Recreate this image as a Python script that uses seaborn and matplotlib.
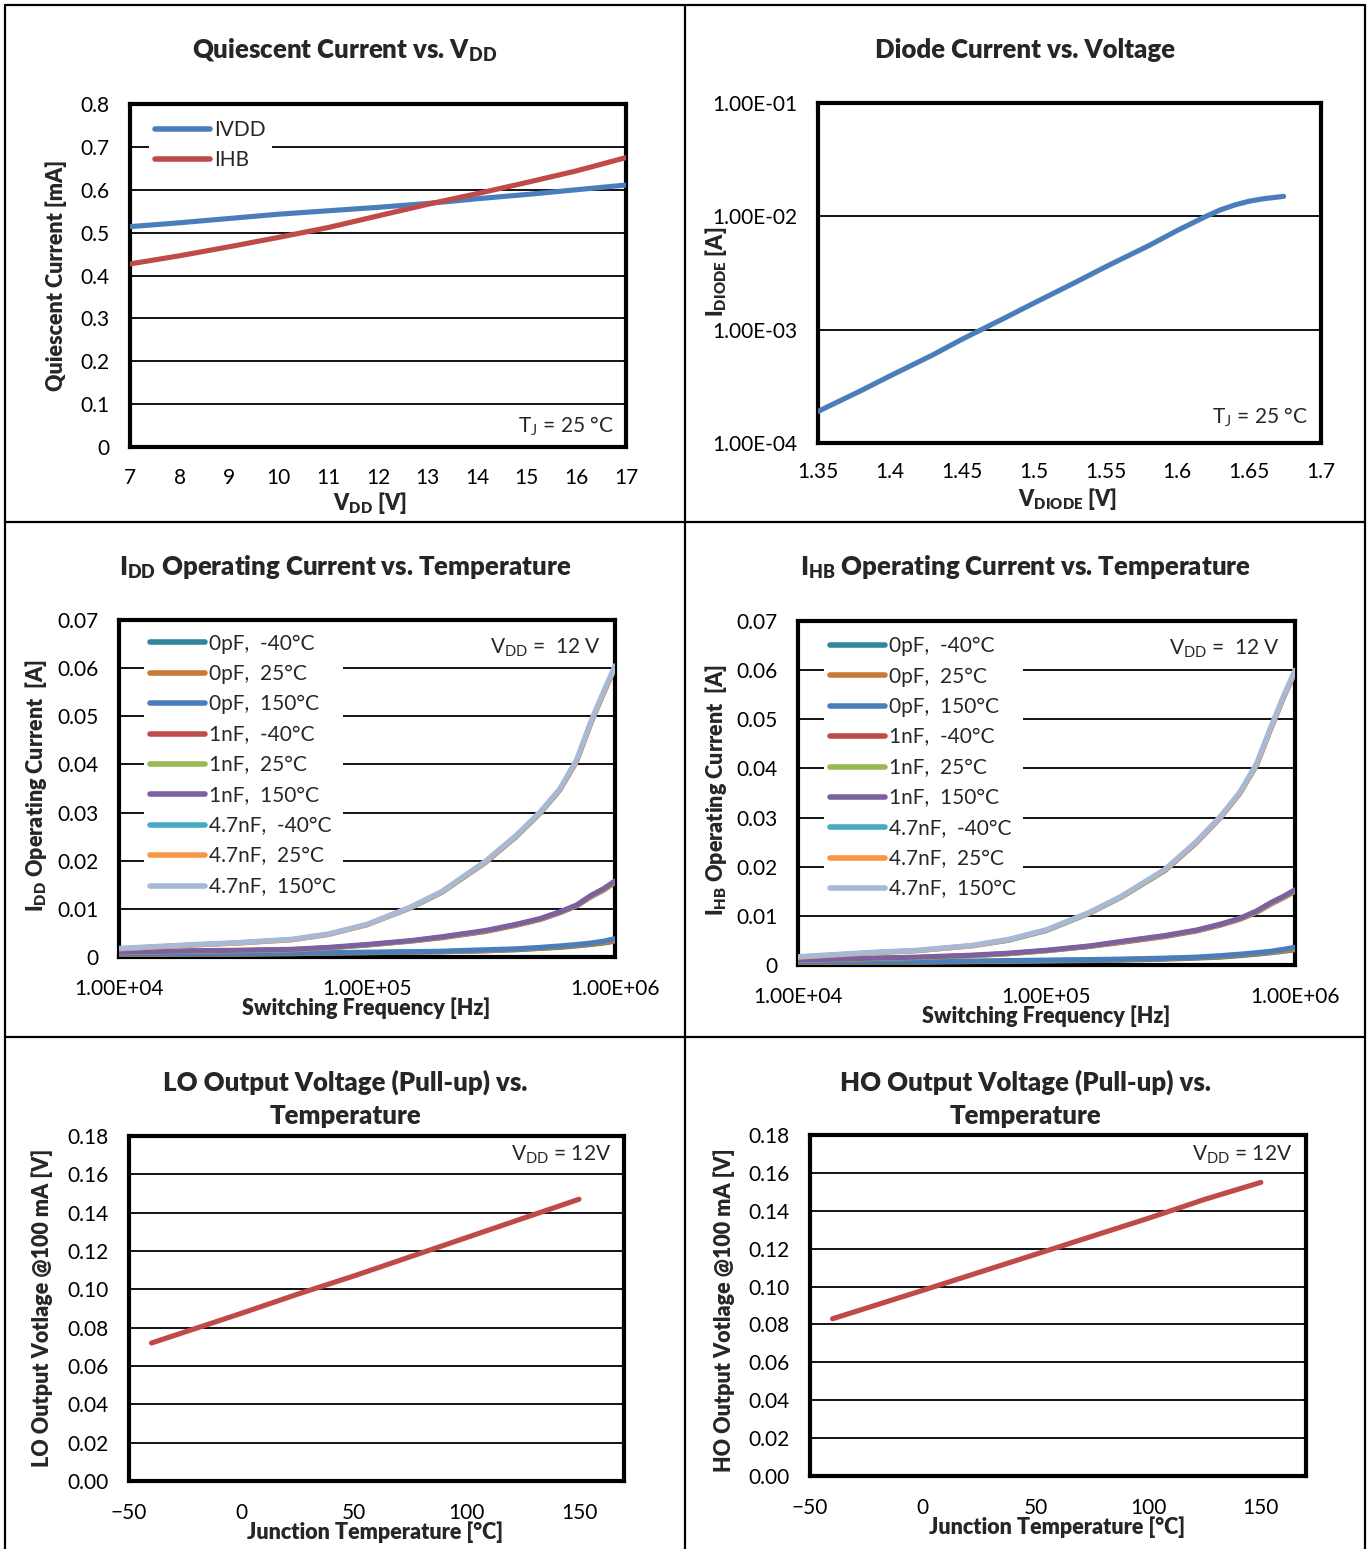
import matplotlib
matplotlib.use("Agg")
import matplotlib.pyplot as plt
import seaborn as sns
import numpy as np
from matplotlib.lines import Line2D
from matplotlib.ticker import FixedLocator, FixedFormatter, NullLocator

sns.set_style("white")
plt.rcParams['font.family'] = ['Lato', 'DejaVu Sans']
plt.rcParams['mathtext.fontset'] = 'custom'
plt.rcParams['mathtext.rm'] = 'Lato'
plt.rcParams['mathtext.it'] = 'Lato:italic'
plt.rcParams['mathtext.bf'] = 'Lato:heavy'

# ---------------- data ----------------
# Chart 1: Quiescent current vs VDD
vdd = [7, 8, 9, 10, 11, 12, 13, 14, 15, 16, 17]
ivdd = [0.514, 0.523, 0.533, 0.543, 0.551, 0.559, 0.568, 0.579, 0.589, 0.600, 0.611]
ihb = [0.427, 0.446, 0.467, 0.489, 0.512, 0.539, 0.566, 0.591, 0.617, 0.644, 0.675]
q_yticks = [0, 0.1, 0.2, 0.3, 0.4, 0.5, 0.6, 0.7, 0.8]
q_ylabels = ["0", "0.1", "0.2", "0.3", "0.4", "0.5", "0.6", "0.7", "0.8"]
q_xticks = [7, 8, 9, 10, 11, 12, 13, 14, 15, 16, 17]

# Chart 2: Diode current vs voltage
v_diode = [1.35, 1.38, 1.40, 1.43, 1.45, 1.48, 1.50, 1.53, 1.55, 1.58, 1.60, 1.62, 1.63, 1.64, 1.65, 1.66, 1.674]
i_diode = [1.9e-4, 2.9e-4, 3.9e-4, 6.0e-4, 8.2e-4, 1.27e-3, 1.71e-3, 2.65e-3, 3.58e-3, 5.5e-3, 7.5e-3, 1.0e-2,
           1.14e-2, 1.26e-2, 1.36e-2, 1.43e-2, 1.50e-2]
d_xticks = [1.35, 1.4, 1.45, 1.5, 1.55, 1.6, 1.65, 1.7]
d_xlabels = ["1.35", "1.4", "1.45", "1.5", "1.55", "1.6", "1.65", "1.7"]
d_yticks = [1e-4, 1e-3, 1e-2, 1e-1]
d_ylabels = ["1.00E-04", "1.00E-03", "1.00E-02", "1.00E-01"]

# Charts 3/4: operating current vs switching frequency
freq = [1e4, 2e4, 3e4, 5e4, 7e4, 1e5, 1.5e5, 2e5, 3e5, 4e5, 5e5, 6e5, 7e5, 8e5, 9e5, 1e6]
series_names = ["0pF,  -40°C", "0pF,  25°C", "0pF,  150°C",
                "1nF,  -40°C", "1nF,  25°C", "1nF,  150°C",
                "4.7nF,  -40°C", "4.7nF,  25°C", "4.7nF,  150°C"]
series_colors = ["#31859C", "#C97A38", "#4A7EBB", "#BE4B48", "#98B954", "#7D60A0",
                 "#46AAC5", "#F79646", "#A7B9D6"]

idd_0pf_m40 = [0.0005, 0.0006, 0.0006, 0.0007, 0.0008, 0.0009, 0.0010, 0.0011, 0.0013, 0.0015, 0.0018, 0.0020, 0.0023, 0.0026, 0.0029, 0.0033]
idd_0pf_25 = [0.0005, 0.0006, 0.0006, 0.0007, 0.0008, 0.0009, 0.0010, 0.0011, 0.0013, 0.0016, 0.0018, 0.0021, 0.0024, 0.0027, 0.0030, 0.0034]
idd_0pf_150 = [0.0006, 0.0007, 0.0007, 0.0008, 0.0009, 0.0010, 0.0011, 0.0012, 0.0015, 0.0017, 0.0020, 0.0023, 0.0026, 0.0029, 0.0033, 0.0038]
idd_1nf_m40 = [0.0009, 0.0012, 0.0013, 0.0015, 0.0019, 0.0025, 0.0033, 0.0040, 0.0053, 0.0066, 0.0078, 0.0092, 0.0106, 0.0125, 0.0139, 0.0155]
idd_1nf_25 = [0.0009, 0.0012, 0.0013, 0.0015, 0.0019, 0.0025, 0.0033, 0.0041, 0.0054, 0.0067, 0.0079, 0.0093, 0.0107, 0.0126, 0.0140, 0.0156]
idd_1nf_150 = [0.0010, 0.0013, 0.0014, 0.0016, 0.0020, 0.0026, 0.0034, 0.0042, 0.0055, 0.0068, 0.0080, 0.0094, 0.0108, 0.0128, 0.0142, 0.0158]
idd_47nf_m40 = [0.0017, 0.0025, 0.0029, 0.0036, 0.0047, 0.0067, 0.0102, 0.0134, 0.0196, 0.0250, 0.0299, 0.0347, 0.0406, 0.0486, 0.0548, 0.0601]
idd_47nf_25 = [0.0017, 0.0025, 0.0029, 0.0036, 0.0047, 0.0067, 0.0103, 0.0135, 0.0197, 0.0251, 0.0300, 0.0348, 0.0407, 0.0487, 0.0549, 0.0602]
idd_47nf_150 = [0.0018, 0.0026, 0.0030, 0.0037, 0.0048, 0.0068, 0.0104, 0.0136, 0.0199, 0.0253, 0.0302, 0.0350, 0.0410, 0.0490, 0.0552, 0.0605]

ihb_0pf_m40 = [0.0005, 0.0006, 0.0006, 0.0007, 0.0007, 0.0008, 0.0009, 0.0010, 0.0012, 0.0014, 0.0016, 0.0019, 0.0022, 0.0025, 0.0028, 0.0031]
ihb_0pf_25 = [0.0005, 0.0006, 0.0006, 0.0007, 0.0008, 0.0009, 0.0010, 0.0011, 0.0013, 0.0015, 0.0017, 0.0020, 0.0023, 0.0026, 0.0029, 0.0032]
ihb_0pf_150 = [0.0006, 0.0007, 0.0007, 0.0008, 0.0009, 0.0010, 0.0011, 0.0012, 0.0014, 0.0016, 0.0019, 0.0022, 0.0025, 0.0028, 0.0032, 0.0036]
ihb_1nf_m40 = [0.0009, 0.0013, 0.0015, 0.0019, 0.0023, 0.0029, 0.0038, 0.0046, 0.0058, 0.0069, 0.0081, 0.0093, 0.0107, 0.0124, 0.0137, 0.0150]
ihb_1nf_25 = [0.0009, 0.0013, 0.0015, 0.0019, 0.0023, 0.0029, 0.0038, 0.0047, 0.0059, 0.0070, 0.0082, 0.0094, 0.0108, 0.0125, 0.0138, 0.0151]
ihb_1nf_150 = [0.0010, 0.0014, 0.0016, 0.0020, 0.0024, 0.0030, 0.0039, 0.0048, 0.0060, 0.0071, 0.0083, 0.0095, 0.0110, 0.0127, 0.0140, 0.0153]
ihb_47nf_m40 = [0.0016, 0.0025, 0.0029, 0.0039, 0.0050, 0.0070, 0.0106, 0.0138, 0.0192, 0.0248, 0.0299, 0.0349, 0.0406, 0.0481, 0.0544, 0.0596]
ihb_47nf_25 = [0.0016, 0.0025, 0.0029, 0.0039, 0.0051, 0.0071, 0.0107, 0.0139, 0.0193, 0.0249, 0.0300, 0.0350, 0.0407, 0.0482, 0.0545, 0.0597]
ihb_47nf_150 = [0.0017, 0.0026, 0.0030, 0.0040, 0.0052, 0.0072, 0.0108, 0.0140, 0.0195, 0.0251, 0.0302, 0.0352, 0.0410, 0.0485, 0.0548, 0.0600]

op_yticks = [0, 0.01, 0.02, 0.03, 0.04, 0.05, 0.06, 0.07]
op_ylabels = ["0", "0.01", "0.02", "0.03", "0.04", "0.05", "0.06", "0.07"]
op_xticks = [1e4, 1e5, 1e6]
op_xlabels = ["1.00E+04", "1.00E+05", "1.00E+06"]

# Charts 5/6: output voltage vs temperature
temp = [-40, 0, 25, 50, 100, 125, 150]
lo_v = [0.072, 0.0875, 0.0975, 0.107, 0.127, 0.137, 0.147]
ho_v = [0.083, 0.098, 0.1075, 0.117, 0.136, 0.146, 0.155]
t_xticks = [-50, 0, 50, 100, 150]
v_yticks = [0, 0.02, 0.04, 0.06, 0.08, 0.10, 0.12, 0.14, 0.16, 0.18]
v_ylabels = ["0.00", "0.02", "0.04", "0.06", "0.08", "0.10", "0.12", "0.14", "0.16", "0.18"]

# ---------------- layout ----------------
W, H = 1368, 1549
fig = plt.figure(figsize=(W / 100, H / 100), dpi=100)

def box(l, t, r, b):
    return [l / W, 1 - b / H, (r - l) / W, (b - t) / H]

TICK_FS = 15
LABEL_FS = 15.5
TITLE_FS = 18.5
BOLD = "heavy"
LW = 3.7
GRID_LW = 1.3
FRAME_LW = 3.0

def style_axes(ax, xpad=16):
    for s in ax.spines.values():
        s.set_visible(True)
        s.set_color("black")
        s.set_linewidth(FRAME_LW)
    ax.tick_params(axis="both", which="both", length=0, labelsize=TICK_FS, colors="black")
    ax.tick_params(axis="y", pad=15)
    ax.tick_params(axis="x", pad=xpad)
    ax.grid(False)
    ax.set_facecolor("white")

def hgrid(ax, values):
    for v in values:
        ax.axhline(v, color="black", lw=GRID_LW, zorder=1)

def labels(ax, xl, xpos, yl, ypos):
    ax.set_xlabel(xl, fontsize=LABEL_FS, fontweight=BOLD, va="center")
    ax.set_ylabel(yl, fontsize=LABEL_FS, fontweight=BOLD, va="center")
    ax.xaxis.set_label_coords(*xpos)
    ax.yaxis.set_label_coords(*ypos)

def title(x, y, s):
    fig.text(x / W, 1 - y / H, s, ha="center", va="center", fontsize=TITLE_FS, fontweight=BOLD,
             linespacing=1.45)

def make_legend(ax, anchor, spacing):
    lg = ax.legend(loc="upper left", bbox_to_anchor=anchor, frameon=True, fontsize=TICK_FS,
                   handlelength=2.65, handletextpad=0.2, labelspacing=spacing, borderpad=0.3,
                   borderaxespad=0.0)
    lg.get_frame().set_facecolor("white")
    lg.get_frame().set_edgecolor("none")
    lg.get_frame().set_alpha(1)
    lg.get_frame().set_boxstyle("square", pad=0)
    for h in lg.legend_handles:
        h.set_linewidth(4.0)
    lg.set_zorder(5)
    return lg

# ---- Chart 1
ax1 = fig.add_axes(box(130, 104, 626, 447))
style_axes(ax1, xpad=15)
hgrid(ax1, q_yticks[1:-1])
sns.lineplot(x=vdd, y=ivdd, ax=ax1, color="#4A7EBB", lw=LW, label="IVDD", zorder=3, solid_capstyle="round")
sns.lineplot(x=vdd, y=ihb, ax=ax1, color="#BE4B48", lw=LW, label="IHB", zorder=3, solid_capstyle="round")
ax1.set_xlim(7, 17)
ax1.set_ylim(0, 0.8)
ax1.xaxis.set_major_locator(FixedLocator(q_xticks))
ax1.yaxis.set_major_locator(FixedLocator(q_yticks))
ax1.yaxis.set_major_formatter(FixedFormatter(q_ylabels))
make_legend(ax1, (0.038, 0.972), 0.5)
labels(ax1, "V$_\\mathbf{DD}$ [V]", (0.484, -0.162), "Quiescent Current [mA]", (-0.149, 0.5))
title(345, 50, "Quiescent Current vs. V$_\\mathbf{DD}$")

# ---- Chart 2
ax2 = fig.add_axes(box(818, 103, 1321, 443))
style_axes(ax2, xpad=14)
ax2.set_yscale("log")
hgrid(ax2, [1e-3, 1e-2])
sns.lineplot(x=v_diode, y=i_diode, ax=ax2, color="#4A7EBB", lw=LW, zorder=3, solid_capstyle="round")
ax2.set_xlim(1.35, 1.7)
ax2.set_ylim(1e-4, 1e-1)
ax2.xaxis.set_major_locator(FixedLocator(d_xticks))
ax2.xaxis.set_major_formatter(FixedFormatter(d_xlabels))
ax2.yaxis.set_major_locator(FixedLocator(d_yticks))
ax2.yaxis.set_major_formatter(FixedFormatter(d_ylabels))
ax2.yaxis.set_minor_locator(NullLocator())
labels(ax2, "V$_\\mathbf{DIODE}$ [V]", (0.497, -0.165), "I$_\\mathbf{DIODE}$ [A]", (-0.203, 0.503))
title(1025, 50, "Diode Current vs. Voltage")

# ---- Charts 3/4
def op_chart(rect, data, ylab, xlab_pos, ylab_pos, ttl, tpos, anno_pos, leg_anchor):
    ax = fig.add_axes(box(*rect))
    style_axes(ax)
    ax.set_xscale("log")
    hgrid(ax, op_yticks[1:-1])
    for name, col, vals in zip(series_names, series_colors, data):
        sns.lineplot(x=freq, y=vals, ax=ax, color=col, lw=LW, label=name, zorder=3, solid_capstyle="round")
    ax.set_xlim(1e4, 1e6)
    ax.set_ylim(0, 0.07)
    ax.xaxis.set_major_locator(FixedLocator(op_xticks))
    ax.xaxis.set_major_formatter(FixedFormatter(op_xlabels))
    ax.xaxis.set_minor_locator(NullLocator())
    ax.yaxis.set_major_locator(FixedLocator(op_yticks))
    ax.yaxis.set_major_formatter(FixedFormatter(op_ylabels))
    make_legend(ax, leg_anchor, 0.5)
    labels(ax, "Switching Frequency [Hz]", xlab_pos, ylab, ylab_pos)
    fig.text(anno_pos[0] / W, 1 - anno_pos[1] / H, "V$_\\mathregular{DD}$ =  12 V", ha="right", va="center", fontsize=TICK_FS)
    title(tpos[0], tpos[1], ttl)
    return ax

op_chart((119, 620, 615, 957),
         [idd_0pf_m40, idd_0pf_25, idd_0pf_150, idd_1nf_m40, idd_1nf_25, idd_1nf_150,
          idd_47nf_m40, idd_47nf_25, idd_47nf_150],
         "I$_\\mathbf{DD}$ Operating Current  [A]", (0.498, -0.151), (-0.167, 0.51),
         "I$_\\mathbf{DD}$ Operating Current vs. Temperature", (345, 567), (601, 648), (0.05, 0.978))
op_chart((798, 621, 1295, 965),
         [ihb_0pf_m40, ihb_0pf_25, ihb_0pf_150, ihb_1nf_m40, ihb_1nf_25, ihb_1nf_150,
          ihb_47nf_m40, ihb_47nf_25, ihb_47nf_150],
         "I$_\\mathbf{HB}$ Operating Current  [A]", (0.499, -0.148), (-0.165, 0.509),
         "I$_\\mathbf{HB}$ Operating Current vs. Temperature", (1025, 567), (1280, 649), (0.052, 0.974))

# ---- Charts 5/6
def volt_chart(rect, vals, ylab, xlab_pos, ylab_pos, ttl, tpos, anno_pos):
    ax = fig.add_axes(box(*rect))
    style_axes(ax)
    hgrid(ax, v_yticks[1:-1])
    sns.lineplot(x=temp, y=vals, ax=ax, color="#BE4B48", lw=LW, zorder=3, solid_capstyle="round")
    ax.set_xlim(-50, 170)
    ax.set_ylim(0, 0.18)
    ax.xaxis.set_major_locator(FixedLocator(t_xticks))
    ax.yaxis.set_major_locator(FixedLocator(v_yticks))
    ax.yaxis.set_major_formatter(FixedFormatter(v_ylabels))
    labels(ax, "Junction Temperature [°C]", xlab_pos, ylab, ylab_pos)
    fig.text(anno_pos[0] / W, 1 - anno_pos[1] / H, "V$_\\mathregular{DD}$ = 12V", ha="right", va="center", fontsize=TICK_FS)
    title(tpos[0], tpos[1], ttl)
    return ax

volt_chart((129, 1136, 624, 1481), lo_v, "LO Output Votlage @100 mA [V]", (0.497, -0.148), (-0.176, 0.501),
           "LO Output Voltage (Pull-up) vs.\nTemperature", (345, 1099), (611, 1155))
volt_chart((810, 1135, 1306, 1476), ho_v, "HO Output Votlage @100 mA [V]", (0.498, -0.150), (-0.173, 0.487),
           "HO Output Voltage (Pull-up) vs.\nTemperature", (1025, 1099), (1292, 1155))

fig.text(614 / W, 1 - 426 / H, "T$_\\mathregular{J}$ = 25 °C", ha="right", va="center", fontsize=TICK_FS)
fig.text(1308 / W, 1 - 417 / H, "T$_\\mathregular{J}$ = 25 °C", ha="right", va="center", fontsize=TICK_FS)

# cell borders
def fline(x0, y0, x1, y1):
    fig.add_artist(Line2D([x0 / W, x1 / W], [1 - y0 / H, 1 - y1 / H], color="black", lw=1.6))

fline(5, 5, 1365, 5)
fline(5, 5, 5, 1549)
fline(1365, 5, 1365, 1549)
fline(685, 5, 685, 1549)
fline(5, 522, 1365, 522)
fline(5, 1037, 1365, 1037)

fig.savefig("out.png", dpi=100, facecolor="white")
